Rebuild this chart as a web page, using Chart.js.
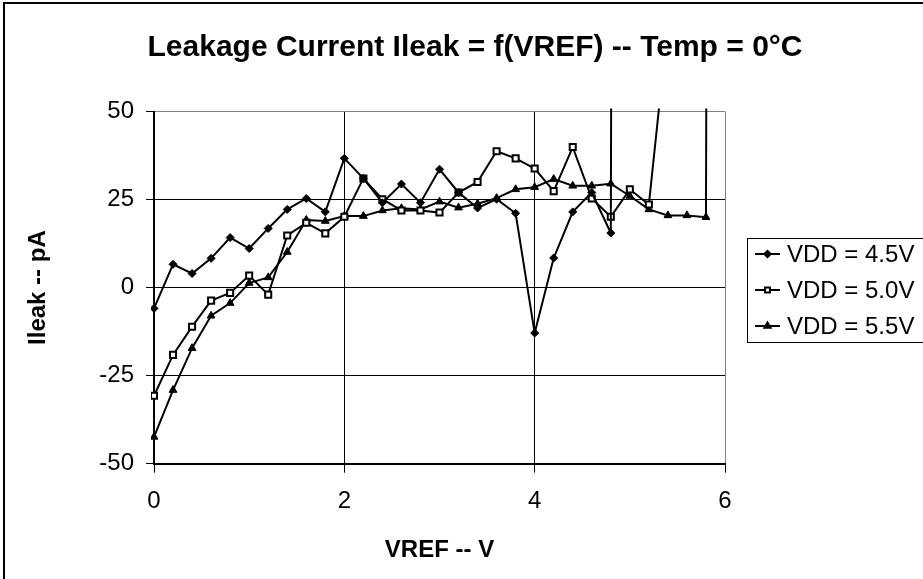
<!DOCTYPE html>
<html>
<head>
<meta charset="utf-8">
<script src="https://cdn.jsdelivr.net/npm/chart.js@4/dist/chart.umd.min.js"></script>
<style>
  html, body { margin: 0; padding: 0; background: #fff; }
  #wrap { width: 923px; height: 579px; position: relative; }
</style>
</head>
<body>
<div id="wrap"><canvas id="c" width="923" height="579"></canvas></div>
<script>
// ---- data ----
const vref = [0, 0.2, 0.4, 0.6, 0.8, 1.0, 1.2, 1.4, 1.6, 1.8, 2.0, 2.2, 2.4, 2.6, 2.8, 3.0,
              3.2, 3.4, 3.6, 3.8, 4.0, 4.2, 4.4, 4.6, 4.8, 5.0, 5.2, 5.4, 5.6, 5.8, 6.0];
const ileakVdd45 = [-5.9, 6.6, 4.0, 8.3, 14.2, 11.1, 16.8, 22.2, 25.3, 21.5, 36.7, 31.0, 24.1, 29.4,
                    24.1, 33.6, 27.0, 22.6, 25.1, 21.1, -12.9, 8.4, 21.5, 27.0, 15.5, 2000];
const ileakVdd50 = [-30.7, -19.1, -11.1, -3.7, -1.5, 3.4, -2.0, 14.8, 18.4, 15.4, 20.1, 31.0, 25.1, 21.9,
                    21.9, 21.3, 27.0, 30.0, 38.7, 36.7, 33.8, 27.4, 39.9, 25.3, 20.1, 27.9, 23.6, 75];
const ileakVdd55 = [-42.4, -29.1, -17.2, -8.0, -4.4, 1.3, 2.9, 10.1, 19.2, 18.9, 20.3, 20.3, 21.9, 22.5,
                    22.2, 24.4, 22.7, 23.8, 25.4, 27.9, 28.5, 30.8, 28.9, 28.9, 29.5, 26.0, 22.2, 20.5,
                    20.5, 20.0, 2000];
const seriesLabels = ['VDD = 4.5V', 'VDD = 5.0V', 'VDD = 5.5V'];
const xTicks = [0, 2, 4, 6];
const yTicks = [-50, -25, 0, 25, 50];
const chartTitle = 'Leakage Current Ileak = f(VREF) -- Temp = 0°C';
const xTitle = 'VREF -- V';
const yTitle = 'Ileak -- pA';

const toPoints = vals => vals.map((v, i) => ({ x: vref[i], y: v }));

const FONT = "'Liberation Sans', Arial, sans-serif";

const styles = [
  { pointStyle: 'rectRot', radius: 4, bg: '#000', bw: 1 },
  { pointStyle: 'rect', radius: 4.3, bg: '#fff', bw: 2 },
  { pointStyle: 'triangle', radius: 4.5, bg: '#000', bw: 1 }
];
const seriesData = [ileakVdd45, ileakVdd50, ileakVdd55];

const datasets = seriesData.map((vals, i) => ({
  label: seriesLabels[i],
  data: toPoints(vals),
  borderColor: '#000',
  borderWidth: 2,
  pointStyle: styles[i].pointStyle,
  pointRadius: styles[i].radius,
  pointBackgroundColor: styles[i].bg,
  pointBorderColor: '#000',
  pointBorderWidth: styles[i].bw,
  tension: 0,
  clip: 3
}));

const framePlugin = {
  id: 'frame',
  beforeDraw(chart) {
    const ctx = chart.ctx;
    ctx.save();
    ctx.fillStyle = '#fff';
    ctx.fillRect(0, 0, chart.width, chart.height);
    ctx.strokeStyle = '#000';
    ctx.lineWidth = 2;
    ctx.strokeRect(4, 3, 1000, 1000);
    ctx.restore();
  },
  afterDraw(chart) {
    const ctx = chart.ctx;
    ctx.save();
    ctx.font = 'bold 30px ' + FONT;
    ctx.fillStyle = '#000';
    ctx.textAlign = 'center';
    ctx.textBaseline = 'middle';
    ctx.fillText(chartTitle, 475, 48);
    ctx.restore();
  }
};

const legendPlugin = {
  id: 'boxLegend',
  afterDraw(chart) {
    const ctx = chart.ctx;
    const left = 747.5, top = 238.5, bottom = 342.5;
    ctx.save();
    ctx.strokeStyle = '#000';
    ctx.lineWidth = 1;
    ctx.strokeRect(left, top, 300, bottom - top);
    const rows = [254, 290, 326];
    ctx.font = '24px ' + FONT;
    ctx.textBaseline = 'middle';
    chart.data.datasets.forEach((ds, i) => {
      const y = rows[i];
      ctx.strokeStyle = '#000';
      ctx.beginPath();
      ctx.lineWidth = 2;
      ctx.moveTo(755, y);
      ctx.lineTo(780, y);
      ctx.stroke();
      ctx.fillStyle = ds.pointBackgroundColor;
      Chart.helpers.drawPoint(ctx, {
        pointStyle: ds.pointStyle,
        radius: ds.pointRadius * 0.8,
        rotation: 0,
        borderWidth: ds.pointBorderWidth
      }, 767.5, y);
      ctx.fillStyle = '#000';
      ctx.fillText(ds.label, 787, y + 1);
    });
    ctx.restore();
  }
};

new Chart(document.getElementById('c'), {
  type: 'line',
  data: { datasets },
  options: {
    responsive: false,
    animation: false,
    devicePixelRatio: 1,
    layout: { padding: { left: 4, right: 198, top: 111.5, bottom: 0 } },
    plugins: {
      legend: { display: false },
      tooltip: { enabled: false },
      title: { display: false }
    },
    scales: {
      x: {
        type: 'linear',
        min: 0, max: 6,
        afterBuildTicks: s => { s.ticks = xTicks.map(v => ({ value: v })); },
        afterFit: s => { s.height = 579 - 463.7; },
        grid: {
          color: c => (c.tick && c.tick.value === 6) ? '#808080' : '#000',
          lineWidth: 1,
          tickLength: 9,
          tickColor: '#000',
          drawOnChartArea: true
        },
        border: { color: '#000', width: 2 },
        ticks: { color: '#000', font: { family: FONT, size: 24 }, padding: 14, maxRotation: 0 },
        title: {
          display: true, text: xTitle, color: '#000',
          font: { family: FONT, size: 24, weight: 'bold', lineHeight: 1.2 },
          padding: { top: 0, bottom: 14 }
        }
      },
      y: {
        type: 'linear',
        min: -50, max: 50,
        afterBuildTicks: s => { s.ticks = yTicks.map(v => ({ value: v })); },
        afterFit: s => { s.width = 150; },
        grid: {
          color: c => (c.tick && c.tick.value === 50) ? '#808080' : '#000',
          lineWidth: 1,
          tickLength: 8,
          tickColor: '#000'
        },
        border: { color: '#000', width: 2 },
        ticks: { color: '#000', font: { family: FONT, size: 24 }, padding: 12 },
        title: {
          display: true, text: yTitle, color: '#000',
          font: { family: FONT, size: 24, weight: 'bold', lineHeight: 1.2 },
          padding: { top: 20, bottom: 0 }
        }
      }
    }
  },
  plugins: [framePlugin, legendPlugin]
});
</script>
</body>
</html>
